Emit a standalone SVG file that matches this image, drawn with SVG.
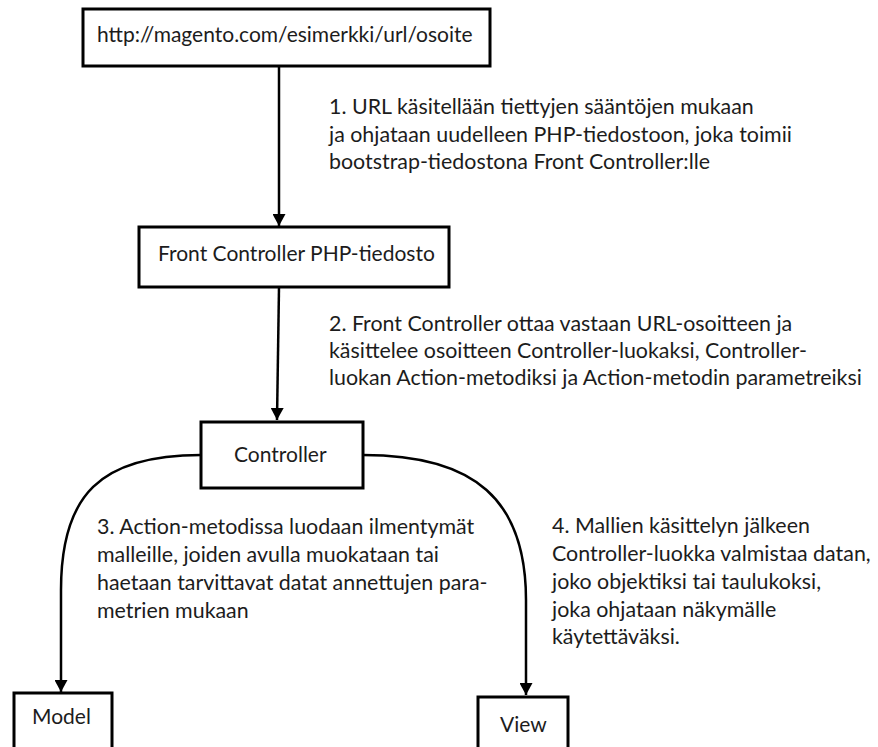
<svg xmlns="http://www.w3.org/2000/svg" width="878" height="747" viewBox="0 0 878 747">
  <style>
    .box { fill: #ffffff; stroke: #000000; stroke-width: 3; }
    .label { font-family: Lato, "Liberation Sans", sans-serif; font-size: 21px; fill: #1c1c1c; }
    .note { font-family: Lato, "Liberation Sans", sans-serif; font-size: 21.4px; fill: #1c1c1c; }
    .edge { fill: none; stroke: #000000; stroke-width: 2.5; marker-end: url(#arrow); }
  </style>
  <defs>
    <marker id="arrow" markerUnits="userSpaceOnUse" markerWidth="13" markerHeight="13" refX="12" refY="6.5" orient="auto">
      <path d="M0,0 L12,6.5 L0,13 z" fill="#000000"/>
    </marker>
  </defs>
  <rect width="878" height="747" fill="#ffffff"/>

  <!-- connectors -->
  <g id="connectors">
    <path class="edge" d="M279,66 L279,226"/>
    <path class="edge" d="M279,287 L277,420"/>
    <path class="edge" d="M201,455 C100,455 61,495 61,590 L61,692"/>
    <path class="edge" d="M363,455 C475,455 526,500 526,600 L526,695"/>
  </g>

  <!-- step notes -->
  <g id="note-1" class="note">
    <text x="329" y="114">1. URL käsitellään tiettyjen sääntöjen mukaan</text>
    <text x="329" y="142">ja ohjataan uudelleen PHP-tiedostoon, joka toimii</text>
    <text x="329" y="169">bootstrap-tiedostona Front Controller:lle</text>
  </g>
  <g id="note-2" class="note">
    <text x="329" y="331">2. Front Controller ottaa vastaan URL-osoitteen ja</text>
    <text x="329" y="358">käsittelee osoitteen Controller-luokaksi, Controller-</text>
    <text x="329" y="385">luokan Action-metodiksi ja Action-metodin parametreiksi</text>
  </g>
  <g id="note-3" class="note">
    <text x="97" y="534">3. Action-metodissa luodaan ilmentymät</text>
    <text x="97" y="562">malleille, joiden avulla muokataan tai</text>
    <text x="97" y="590">haetaan tarvittavat datat annettujen para-</text>
    <text x="97" y="618">metrien mukaan</text>
  </g>
  <g id="note-4" class="note">
    <text x="552" y="533">4. Mallien käsittelyn jälkeen</text>
    <text x="552" y="561">Controller-luokka valmistaa datan,</text>
    <text x="552" y="589">joko objektiksi tai taulukoksi,</text>
    <text x="552" y="617">joka ohjataan näkymälle</text>
    <text x="552" y="644">käytettäväksi.</text>
  </g>

  <!-- nodes -->
  <g id="node-url">
    <rect class="box" x="83" y="9" width="407" height="57"/>
    <text class="label" x="97" y="42">http://magento.com/esimerkki/url/osoite</text>
  </g>
  <g id="node-front-controller">
    <rect class="box" x="139" y="227" width="310" height="60"/>
    <text class="label" x="158" y="261">Front Controller PHP-tiedosto</text>
  </g>
  <g id="node-controller">
    <rect class="box" x="201" y="422" width="162" height="66"/>
    <text class="label" x="234" y="462">Controller</text>
  </g>
  <g id="node-model">
    <rect class="box" x="14" y="693" width="98" height="70"/>
    <text class="label" x="32" y="724">Model</text>
  </g>
  <g id="node-view">
    <rect class="box" x="478" y="697" width="90" height="70"/>
    <text class="label" x="500" y="732">View</text>
  </g>
</svg>
